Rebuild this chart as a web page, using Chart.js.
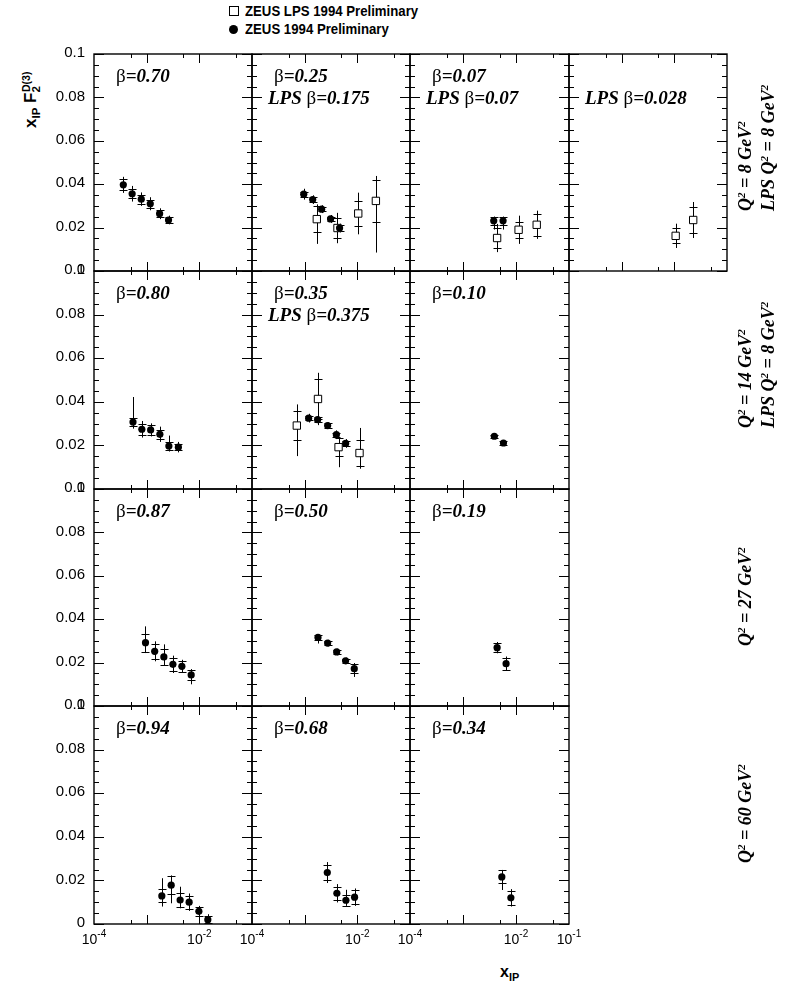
<!DOCTYPE html>
<html>
<head>
<meta charset="utf-8">
<script src="https://cdn.jsdelivr.net/npm/chart.js@4.4.0/dist/chart.umd.min.js"></script>
<style>
  body { margin: 0; width: 804px; height: 994px; background: #fff; position: relative; overflow: hidden; }
  canvas { position: absolute; }
  .txt { position: absolute; white-space: nowrap; color: #000; }
  .rot { position: absolute; white-space: nowrap; transform-origin: 0 0; transform: rotate(-90deg) translateY(-50%); }
  .sans { font-family: "Liberation Sans", Arial, sans-serif; font-weight: bold; }
  .serif { font-family: "Liberation Serif", "Times New Roman", serif; font-weight: bold; font-style: italic; }
  .up { font-size: 0.62em; position: relative; top: -0.55em; }
  .dn { font-size: 0.68em; position: relative; top: 0.35em; }
</style>
</head>
<body>

<!-- legend -->
<div class="txt" style="left:229px; top:6px; width:8px; height:8px; border:1px solid #000;"></div>
<div class="txt" style="left:229px; top:25px; width:9px; height:9px; border-radius:50%; background:#000;"></div>
<div class="txt sans" style="left:245px; top:2px; font-size:15px; line-height:18px; transform:scaleX(0.88); transform-origin:0 0;">ZEUS LPS 1994 Preliminary</div>
<div class="txt sans" style="left:245px; top:20px; font-size:15px; line-height:18px; transform:scaleX(0.88); transform-origin:0 0;">ZEUS 1994 Preliminary</div>

<!-- axis titles -->
<div class="rot sans" style="left:31px; top:128px; font-size:17px; line-height:20px;">x<span class="dn">IP</span> F<span class="dn">2</span><span class="up" style="margin-left:-6px;">D(3)</span></div>
<div class="txt sans" style="left:500px; top:962px; font-size:16px; line-height:20px;">x<span class="dn">IP</span></div>

<script>
// beta = 0.70, Q2 = 8
const x070 = [3.6e-4, 5.3e-4, 7.9e-4, 1.17e-3, 1.76e-3, 2.6e-3];
const f070 = [0.0397, 0.0356, 0.0331, 0.0310, 0.0264, 0.0235];
const s070 = [0.0025, 0.002, 0.002, 0.0018, 0.0015, 0.0012];
const t070 = [0.0037, 0.0036, 0.0031, 0.003, 0.0025, 0.002];

// beta = 0.25, Q2 = 8
const x025 = [9.6e-4, 1.42e-3, 2.1e-3, 3.1e-3, 4.6e-3];
const f025 = [0.0354, 0.0329, 0.0285, 0.0240, 0.0198];
const s025 = [0.0012, 0.001, 0.001, 0.001, 0.0012];
const t025 = [0.0025, 0.002, 0.0018, 0.0018, 0.002];

// LPS beta = 0.175 (total errors as [up, down] where asymmetric)
const xL0175 = [1.7e-3, 4.2e-3, 1.04e-2, 2.25e-2];
const fL0175 = [0.0239, 0.0198, 0.0265, 0.0323];
const sL0175 = [0.006, 0.0047, 0.0056, 0.0098];
const tL0175 = [[0.0068, 0.0114], 0.007, 0.0096, [0.0115, 0.0238]];

// beta = 0.07, Q2 = 8
const x007 = [3.8e-3, 5.7e-3];
const f007 = [0.0231, 0.0231];
const s007 = [0.002, 0.002];
const t007 = [[0.002, 0.004], [0.002, 0.004]];

// LPS beta = 0.07
const xL007 = [4.4e-3, 1.12e-2, 2.46e-2];
const fL007 = [0.0152, 0.0190, 0.0213];
const sL007 = [0.0045, 0.0036, 0.005];
const tL007 = [0.0065, 0.0065, 0.0065];

// LPS beta = 0.028
const xL0028 = [1.06e-2, 2.28e-2];
const fL0028 = [0.0162, 0.0235];
const sL0028 = [0.0035, 0.0058];
const tL0028 = [0.0056, 0.0083];

// beta = 0.80, Q2 = 14
const x080 = [5.5e-4, 8.1e-4, 1.19e-3, 1.78e-3, 2.64e-3, 4.0e-3];
const f080 = [0.0307, 0.0274, 0.0271, 0.0251, 0.0197, 0.0192];
const s080 = [0.002, 0.0025, 0.0022, 0.002, 0.002, 0.0015];
const t080 = [[0.0115, 0.003], 0.0038, 0.003, 0.0035, [0.0048, 0.0025], 0.0024];

// beta = 0.35, Q2 = 14
const x035 = [1.19e-3, 1.76e-3, 2.73e-3, 4.0e-3, 6.0e-3];
const f035 = [0.0325, 0.0318, 0.0291, 0.0249, 0.0209];
const s035 = [0.001, 0.001, 0.001, 0.001, 0.001];
const t035 = [0.002, 0.002, 0.0015, 0.002, 0.002];

// LPS beta = 0.375
const xL0375 = [7.1e-4, 1.79e-3, 4.4e-3, 1.1e-2];
const fL0375 = [0.0291, 0.0413, 0.0192, 0.0165];
const sL0375 = [0.0066, 0.009, 0.004, 0.006];
const tL0375 = [[0.0097, 0.014], 0.012, [0.0045, 0.0092], [0.0115, 0.0072]];

// beta = 0.10, Q2 = 14
const x010 = [3.9e-3, 5.8e-3];
const f010 = [0.0242, 0.0211];
const s010 = [0.0008, 0.0008];
const t010 = [0.0012, 0.0012];

// beta = 0.87, Q2 = 27
const x087 = [9.5e-4, 1.42e-3, 2.12e-3, 3.15e-3, 4.66e-3, 7.0e-3];
const f087 = [0.0292, 0.0252, 0.0226, 0.0192, 0.0183, 0.0143];
const s087 = [0.0042, 0.0036, 0.0035, 0.003, 0.0025, 0.0025];
const t087 = [[0.0075, 0.0048], 0.0046, [0.0058, 0.004], 0.004, 0.003, [0.0027, 0.0043]];

// beta = 0.50, Q2 = 27
const x050 = [1.79e-3, 2.73e-3, 4.05e-3, 5.98e-3, 8.75e-3];
const f050 = [0.0316, 0.0290, 0.0249, 0.0208, 0.0172];
const s050 = [0.0012, 0.001, 0.001, 0.001, 0.0022];
const t050 = [[0.0015, 0.0028], 0.0015, 0.0015, 0.0015, [0.0026, 0.0038]];

// beta = 0.19, Q2 = 27
const x019 = [4.4e-3, 6.5e-3];
const f019 = [0.0269, 0.0195];
const s019 = [0.0021, 0.0028];
const t019 = [0.0026, 0.0033];

// beta = 0.94, Q2 = 60
const x094 = [1.94e-3, 2.92e-3, 4.32e-3, 6.4e-3, 9.8e-3, 1.45e-2];
const f094 = [0.0129, 0.0178, 0.0110, 0.0100, 0.0058, 0.002];
const s094 = [0.003, 0.004, 0.0032, 0.003, 0.002, 0.0015];
const t094 = [[0.0081, 0.0049], [0.0045, 0.0083], [0.0061, 0.0038], 0.004, [0.0025, 0.004], 0.0025];

// beta = 0.68, Q2 = 60
const x068 = [2.69e-3, 4.09e-3, 6.07e-3, 8.87e-3];
const f068 = [0.0236, 0.0141, 0.0109, 0.0123];
const s068 = [0.0033, 0.003, 0.0025, 0.0031];
const t068 = [0.0048, 0.0042, [0.0048, 0.0026], 0.004];

// beta = 0.34, Q2 = 60
const x034 = [5.4e-3, 8.0e-3];
const f034 = [0.0216, 0.0120];
const s034 = [0.003, 0.0032];
const t034 = [[0.0032, 0.006], 0.004];

// axis ticks
const yTicks = [0, 0.02, 0.04, 0.06, 0.08, 0.1];
const yTickText = ['0', '0.02', '0.04', '0.06', '0.08', '0.1'];
const xMajor = [1e-3, 1e-2];
const xMinor = [5e-4, 5e-3, 5e-2];
const xLabelVals = [1e-4, 1e-2, 1e-1];
const xLabelExp = ['-4', '-2', '-1'];

// Q2 labels on the right, one list per row
const q2Text = ['8', '14', '27', '60'];
const lpsQ2Text = ['8', '8', null, null];

// panel grid edges (page pixels)
const colEdges = [94, 252, 410, 569, 727];
const rowEdges = [54, 271, 489, 706, 924];
const M = 60;

function zeus(x, f, s, t) {
  return {
    data: x.map((v, i) => ({ x: v, y: f[i] })), stat: s, tot: t,
    pointStyle: 'circle', pointRadius: 3.6, backgroundColor: '#000', borderColor: '#000', borderWidth: 0
  };
}
function lps(x, f, s, t) {
  return {
    data: x.map((v, i) => ({ x: v, y: f[i] })), stat: s, tot: t,
    pointStyle: 'rect', pointRadius: 5.2, backgroundColor: '#fff', borderColor: '#000', borderWidth: 1
  };
}

const panels = [
  { row: 0, col: 0, text: ['β=0.70'], sets: [zeus(x070, f070, s070, t070)] },
  { row: 0, col: 1, text: ['β=0.25', 'LPS β=0.175'], sets: [zeus(x025, f025, s025, t025), lps(xL0175, fL0175, sL0175, tL0175)] },
  { row: 0, col: 2, text: ['β=0.07', 'LPS β=0.07'], sets: [zeus(x007, f007, s007, t007), lps(xL007, fL007, sL007, tL007)] },
  { row: 0, col: 3, text: [null, 'LPS β=0.028'], sets: [lps(xL0028, fL0028, sL0028, tL0028)] },
  { row: 1, col: 0, text: ['β=0.80'], sets: [zeus(x080, f080, s080, t080)] },
  { row: 1, col: 1, text: ['β=0.35', 'LPS β=0.375'], sets: [zeus(x035, f035, s035, t035), lps(xL0375, fL0375, sL0375, tL0375)] },
  { row: 1, col: 2, text: ['β=0.10'], sets: [zeus(x010, f010, s010, t010)] },
  { row: 2, col: 0, text: ['β=0.87'], sets: [zeus(x087, f087, s087, t087)] },
  { row: 2, col: 1, text: ['β=0.50'], sets: [zeus(x050, f050, s050, t050)] },
  { row: 2, col: 2, text: ['β=0.19'], sets: [zeus(x019, f019, s019, t019)] },
  { row: 3, col: 0, text: ['β=0.94'], sets: [zeus(x094, f094, s094, t094)] },
  { row: 3, col: 1, text: ['β=0.68'], sets: [zeus(x068, f068, s068, t068)] },
  { row: 3, col: 2, text: ['β=0.34'], sets: [zeus(x034, f034, s034, t034)] }
];

const SERIF = '"Liberation Serif", "Times New Roman", serif';
const SANS = '"Liberation Sans", Arial, sans-serif';

// beta drawn upright, everything else bold italic
function drawBetaText(ctx, x, y, text) {
  let cx = x;
  text.split(/(β)/).forEach(part => {
    if (!part) return;
    ctx.font = part === 'β' ? '19px ' + SERIF : 'italic bold 19px ' + SERIF;
    ctx.fillText(part, cx, y);
    cx += ctx.measureText(part).width;
  });
}

const errorBars = {
  id: 'errorBars',
  beforeDatasetsDraw(chart) {
    const { ctx, chartArea: a, scales: { x: xs, y: ys } } = chart;
    ctx.save();
    ctx.beginPath();
    ctx.rect(a.left, a.top, a.right - a.left, a.bottom - a.top);
    ctx.clip();
    ctx.strokeStyle = '#000';
    ctx.lineWidth = 1;
    chart.data.datasets.forEach(ds => {
      ds.data.forEach((pt, j) => {
        const px = Math.round(xs.getPixelForValue(pt.x)) + 0.5;
        const t = ds.tot[j];
        const up = Array.isArray(t) ? t[0] : t;
        const dn = Array.isArray(t) ? t[1] : t;
        ctx.beginPath();
        ctx.moveTo(px, ys.getPixelForValue(pt.y + up));
        ctx.lineTo(px, ys.getPixelForValue(pt.y - dn));
        [pt.y + ds.stat[j], pt.y - ds.stat[j]].forEach(v => {
          const py = Math.round(ys.getPixelForValue(v)) + 0.5;
          ctx.moveTo(px - 4, py);
          ctx.lineTo(px + 4, py);
        });
        ctx.stroke();
      });
    });
    ctx.restore();
  }
};

const frame = {
  id: 'frame',
  afterDraw(chart, args, opts) {
    const { ctx, chartArea: a, scales: { x: xs, y: ys } } = chart;
    ctx.save();
    ctx.strokeStyle = '#000';
    ctx.fillStyle = '#000';
    ctx.lineWidth = 1;
    ctx.beginPath();
    // y ticks every 0.005, long ones every 0.02, on both sides pointing inward
    for (let i = 0; i <= 20; i++) {
      const py = Math.round(ys.getPixelForValue(i * 0.005)) + 0.5;
      const len = i % 4 === 0 ? 10 : 5;
      ctx.moveTo(a.left, py); ctx.lineTo(a.left + len, py);
      ctx.moveTo(a.right, py); ctx.lineTo(a.right - len, py);
    }
    // x ticks on log axis, top and bottom
    xMajor.concat(xMinor).forEach(v => {
      const px = Math.round(xs.getPixelForValue(v)) + 0.5;
      const len = xMajor.includes(v) ? 9 : 4;
      ctx.moveTo(px, a.bottom); ctx.lineTo(px, a.bottom - len);
      ctx.moveTo(px, a.top); ctx.lineTo(px, a.top + len);
    });
    ctx.stroke();
    ctx.lineWidth = 1.4;
    ctx.strokeRect(a.left, a.top, a.right - a.left, a.bottom - a.top);

    // y tick labels on the first column
    if (opts.col === 0) {
      ctx.font = '15px ' + SANS;
      ctx.textAlign = 'right';
      ctx.textBaseline = 'middle';
      yTicks.forEach((v, i) => ctx.fillText(yTickText[i], a.left - 9, ys.getPixelForValue(v) - 1));
    }
    // x tick labels on the bottom row
    if (opts.bottom) {
      ctx.textAlign = 'left';
      ctx.textBaseline = 'alphabetic';
      xLabelVals.forEach((v, i) => {
        if (v === 1e-1 && !opts.last) return;
        ctx.font = '14px ' + SANS;
        const w1 = ctx.measureText('10').width;
        ctx.font = '10px ' + SANS;
        const w2 = ctx.measureText(xLabelExp[i]).width;
        const x0 = xs.getPixelForValue(v) - (w1 + w2) / 2;
        ctx.font = '14px ' + SANS;
        ctx.fillText('10', x0, a.bottom + 20);
        ctx.font = '10px ' + SANS;
        ctx.fillText(xLabelExp[i], x0 + w1, a.bottom + 13);
      });
    }
    // beta labels
    ctx.textAlign = 'left';
    ctx.textBaseline = 'alphabetic';
    if (opts.text[0]) drawBetaText(ctx, a.left + 22, a.top + 28, opts.text[0]);
    if (opts.text[1]) drawBetaText(ctx, a.left + 16, a.top + 50, opts.text[1]);
    ctx.restore();
  }
};

panels.forEach(p => {
  const l = colEdges[p.col], r = colEdges[p.col + 1];
  const t = rowEdges[p.row], b = rowEdges[p.row + 1];
  const cv = document.createElement('canvas');
  cv.width = r - l + 2 * M;
  cv.height = b - t + 2 * M;
  cv.style.left = (l - M) + 'px';
  cv.style.top = (t - M) + 'px';
  document.body.appendChild(cv);
  new Chart(cv, {
    type: 'scatter',
    data: { datasets: p.sets },
    options: {
      responsive: false,
      animation: false,
      devicePixelRatio: 1,
      layout: { padding: { left: M, right: M, top: M, bottom: M } },
      plugins: {
        legend: { display: false },
        tooltip: { enabled: false },
        frame: { col: p.col, bottom: p.row === 3, last: p.col === 2, text: p.text }
      },
      scales: {
        x: { type: 'logarithmic', min: 1e-4, max: 1e-1, display: false },
        y: { type: 'linear', min: 0, max: 0.1, display: false }
      }
    },
    plugins: [errorBars, frame]
  });
});

// rotated Q2 labels to the right of each row
function rotLabel(html, cx, bottomY) {
  const d = document.createElement('div');
  d.className = 'rot serif';
  d.style.left = cx + 'px';
  d.style.top = bottomY + 'px';
  d.style.fontSize = '18px';
  d.style.lineHeight = '20px';
  d.innerHTML = html;
  document.body.appendChild(d);
}
q2Text.forEach((q, r) => {
  const y0 = rowEdges[r] + 157;
  rotLabel('Q<span class="up">2</span> = ' + q + ' GeV<span class="up">2</span>', 746, y0);
  if (lpsQ2Text[r]) {
    rotLabel('LPS Q<span class="up">2</span> = ' + lpsQ2Text[r] + ' GeV<span class="up">2</span>', 769, y0);
  }
});
</script>
</body>
</html>
